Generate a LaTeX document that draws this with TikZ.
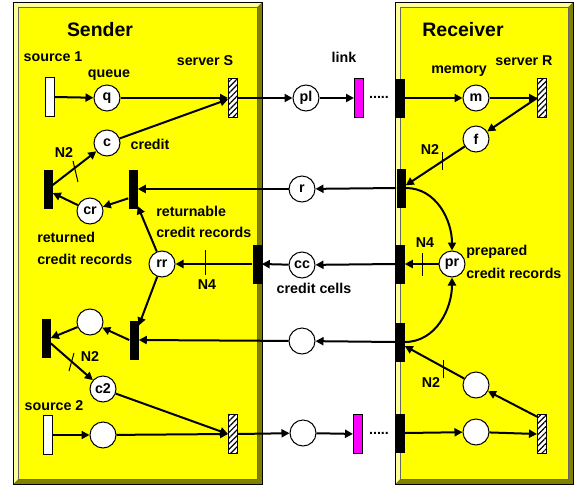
\documentclass[tikz,border=0pt]{standalone}
\usepackage{fontspec}
\setmainfont{Liberation Sans}
\usetikzlibrary{arrows.meta,patterns.meta,calc}

\definecolor{panelface}{HTML}{FFFF00}
\definecolor{panellight}{HTML}{FFFF99}
\definecolor{paneldark}{HTML}{808000}
\definecolor{linkmag}{HTML}{FF00FF}

% bevelled panel: x1 y1 x2 y2
\newcommand\bevelpanel[4]{%
  \fill[paneldark] (#1,#2) rectangle (#3,#4);
  \fill[panellight] (#1,#2) -- (#3,#2) -- ({#3-5},{#2+5}) -- ({#1+5},{#2+5})
        -- ({#1+5},{#4-5}) -- (#1,#4) -- cycle;
  \fill[panelface] ({#1+5},{#2+5}) rectangle ({#3-5},{#4-5});
  \draw[line width=0.75pt] (#1,#2) rectangle (#3,#4);
  \draw[line width=0.4pt, black!60] ({#1+5},{#2+5}) rectangle ({#3-5},{#4-5});
}

\tikzset{
  lbl/.style={font=\fontsize{10.7}{12}\selectfont\bfseries, inner sep=0pt},
  ttl/.style={font=\fontsize{14.6}{17}\selectfont\bfseries, inner sep=0pt},
  place/.style={circle, draw, fill=white, line width=0.75pt, minimum size=19.5pt,
                inner sep=0pt, font=\fontsize{10.7}{12}\selectfont\bfseries},
  bar/.style={rectangle, fill=black, minimum width=6.75pt, minimum height=29.25pt, inner sep=0pt},
  srcbar/.style={bar, fill=white, draw, line width=0.75pt},
  hatchbar/.style={bar, draw, line width=0.75pt, fill=white,
                   postaction={pattern={Lines[angle=45,distance=3pt,line width=0.9pt]}}},
  linkbar/.style={bar, draw, line width=0.75pt, fill=linkmag},
  arc/.style={line width=1.5pt, -{Triangle[length=6pt,width=6pt]}},
  tickmark/.style={line width=0.75pt},
}

\begin{document}
\begin{tikzpicture}[x=0.75pt,y=-0.75pt]
\useasboundingbox (0,0) rectangle (575,486);
\fill[white] (0,0) rectangle (575,486);

\bevelpanel{13}{2}{262}{484}
\bevelpanel{395}{2}{573}{484}

% titles and labels
\node[ttl] (tsend) at (100,30) {Sender};
\node[ttl] (trecv) at (463,30) {Receiver};
\node[lbl] (lsrc1) at (53,57) {source 1};
\node[lbl] (lqueue) at (109,75) {queue};
\node[lbl] (lsrvS) at (205,61) {server S};
\node[lbl] (lcredit) at (150,144) {credit};
\node[lbl] (ln2a) at (64,153) {N2};
\node[lbl, anchor=west] (lret1) at (156,211) {returnable};
\node[lbl, anchor=west] (lret2) at (156,232) {credit records};
\node[lbl, anchor=west] (lrtd1) at (37,237) {returned};
\node[lbl, anchor=west] (lrtd2) at (37,259) {credit records};
\node[lbl] (ln4a) at (207,285) {N4};
\node[lbl] (ln2b) at (90,357) {N2};
\node[lbl] (lsrc2) at (54,406) {source 2};
\node[lbl] (llink) at (344,57) {link};
\node[lbl] (lmem) at (459,71) {memory};
\node[lbl] (lsrvR) at (524,61) {server R};
\node[lbl] (ln2c) at (430,150) {N2};
\node[lbl] (ln4b) at (425,243) {N4};
\node[lbl, anchor=west] (lprep1) at (466,252) {prepared};
\node[lbl, anchor=west] (lprep2) at (466,273) {credit records};
\node[lbl] (lcells) at (314,288) {credit cells};
\node[lbl] (ln2d) at (431,383) {N2};
\node[lbl] (dots1) at (379,97) {.....};
\node[lbl] (dots2) at (379,433) {.....};

% sender net
\node[srcbar] (src1) at (49.5,97) {};
\node[place] (q) at (107,98) {q};
\node[hatchbar] (sS) at (233,98) {};
\node[place] (c) at (107,143) {c};
\node[bar] (T1) at (48,189) {};
\node[place] (cr) at (90,211) {cr};
\node[bar] (T2) at (133,189) {};
\node[place] (rr) at (162,264) {rr};
\node[bar] (T3) at (257,264) {};
\node[bar] (T4) at (46,338) {};
\node[place] (P1) at (90,322) {};
\node[bar] (T5) at (134,340) {};
\node[place] (c2) at (103,389) {c2};
\node[srcbar] (src2) at (48,435) {};
\node[place] (P2) at (103,435) {};
\node[hatchbar] (sS2) at (233,434) {};

% link and receiver net
\node[place] (pl) at (306,98) {pl};
\node[linkbar] (L1) at (359,98) {};
\node[bar] (R1) at (400,98) {};
\node[place] (m) at (476,98) {m};
\node[hatchbar] (sR) at (542,98) {};
\node[place] (f) at (476,139) {f};
\node[bar] (Tr1) at (401,188) {};
\node[place] (r) at (302,189) {r};
\node[place] (pr) at (452,264) {pr};
\node[bar] (Tr2) at (400,264) {};
\node[place] (cc) at (302,265) {cc};
\node[bar] (Tr3) at (400,342) {};
\node[place] (P3) at (302,341) {};
\node[place] (P4) at (476,385) {};
\node[place] (P5) at (303,433) {};
\node[linkbar] (L2) at (358,434) {};
\node[bar] (Tr4) at (400,433) {};
\node[place] (P6) at (476,432) {};
\node[hatchbar] (sR2) at (542,434) {};

% arcs: upper flow
\draw[arc] (src1.east) -- (q);
\draw[arc] (q) -- (sS.west);
\draw[arc] (c) -- ([yshift=-1pt]sS.west);
\draw[arc] (sS.east) -- (pl);
\draw[arc] (pl) -- (L1);
\draw[arc] (R1.east) -- (m);
\draw[arc] (m) -- (sR.west);
\draw[arc] (sR.west) -- (f);
\draw[arc] (f) -- ([yshift=2pt]Tr1.east);
\draw[arc] (Tr1.west) -- (r);
\draw[arc] (r) -- (T2.east);
\draw[arc] (Tr1.east) to[out=0,in=90] (pr.north);
\draw[arc] ([yshift=-7pt]T2.west) -- (cr);
\draw[arc] (cr) -- ([yshift=-3pt]T1.east);
\draw[arc] ([yshift=3pt]T1.east) -- (c);
\draw[arc] (rr) -- ([yshift=2pt]T2.south east);

% arcs: credit cells
\draw[arc] (pr) -- (Tr2.east);
\draw[arc] (Tr2.west) -- (cc);
\draw[arc] (cc) -- (T3.east);
\draw[arc] (T3.west) -- (rr);

% arcs: lower flow
\draw[arc] (Tr3.east) to[out=0,in=-90] (pr.south);
\draw[arc] (Tr3.west) -- (P3);
\draw[arc] (P3) -- (T5.east);
\draw[arc] (rr) -- ([yshift=-4pt]T5.north east);
\draw[arc] (T5.west) -- (P1);
\draw[arc] (P1) -- (T4.east);
\draw[arc] ([yshift=-4pt]T4.east) -- (c2);
\draw[arc] (c2) -- (sS2.west);
\draw[arc] (src2.east) -- (P2);
\draw[arc] (P2) -- (sS2.west);
\draw[arc] (sS2.east) -- (P5);
\draw[arc] (P5) -- (L2);
\draw[arc] (Tr4.east) -- (P6);
\draw[arc] (P6) -- (sR2.west);
\draw[arc] ([yshift=-2pt]sR2.north west) -- (P4);
\draw[arc] (P4) -- ([yshift=-3pt]Tr3.east);

% weight marks
\draw[tickmark] (73,161) -- (78,182);
\draw[tickmark] (74,353) -- (69,371);
\draw[tickmark] (205,250) -- (205,275);
\draw[tickmark] (442,152) -- (442,170);
\draw[tickmark] (422,253) -- (422,276);
\draw[tickmark] (443,360) -- (443,378);
\end{tikzpicture}
\end{document}
